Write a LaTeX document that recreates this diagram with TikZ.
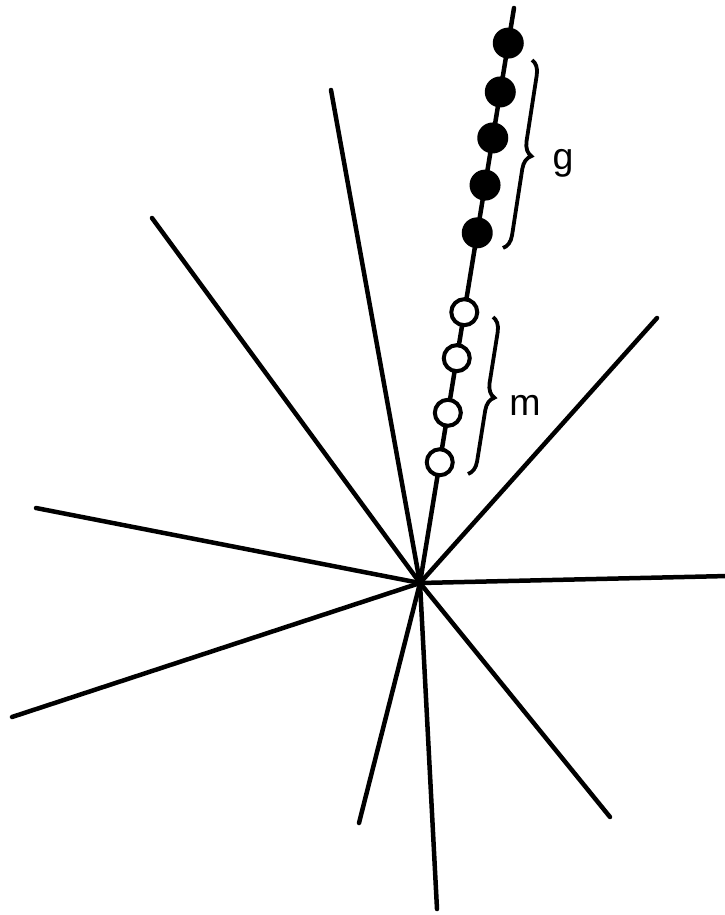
\documentclass[tikz,border=0pt]{standalone}
\usepackage{fontspec}
\setmainfont{Liberation Sans}
\usetikzlibrary{calc,decorations.pathreplacing}

\begin{document}
\begin{tikzpicture}[x=0.03cm, y=-0.03cm,
  ray/.style={line width=4.5*0.03cm, line cap=round},
  full/.style={circle, fill=black, minimum size=31*0.03cm, inner sep=0pt},
  hollow/.style={circle, fill=white, draw=black, line width=4*0.03cm,
                 minimum size=26*0.03cm, inner sep=0pt},
  curly/.style={decorate, line width=3.8*0.03cm,
                decoration={brace, amplitude=14*0.03cm}},
  lbl/.style={font=\fontsize{32}{36}\selectfont, inner sep=0pt}]
  \useasboundingbox (0,0) rectangle (725,915);
  \coordinate (O) at (420,583);
  \coordinate (T) at (514,8);
  % rays from the centre
  \foreach \x/\y [count=\i] in {331/90, 152/218, 36/508, 12/717, 359/823,
                               437/909, 610/817, 728/576, 657/318}
    \draw[ray] (O) -- (\x,\y) coordinate (r\i);
  \draw[ray] (O) -- (T);
  % filled dots
  \foreach \p [count=\i] in {0.939, 0.854, 0.774, 0.692, 0.609}
    \node[full] (g\i) at ($(O)!\p!(T)$) {};
  % open dots
  \foreach \p [count=\i] in {0.471, 0.391, 0.296, 0.210}
    \node[hollow] (m\i) at ($(O)!\p!(T)$) {};
  \draw[curly] (532,60) -- (503,248) coordinate[midway] (gb);
  \draw[curly] (493,317) -- (468,474) coordinate[midway] (mb);
  \node[lbl] (g) at (563,163) {g};
  \node[lbl] (m) at (525,405) {m};
\end{tikzpicture}
\end{document}
